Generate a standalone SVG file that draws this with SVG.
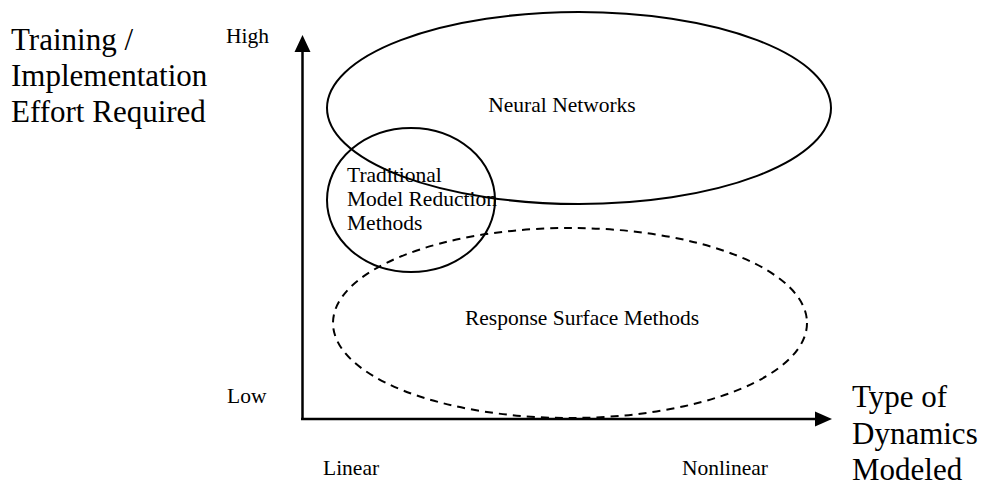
<svg xmlns="http://www.w3.org/2000/svg" width="982" height="487" viewBox="0 0 982 487">
<style>
text{font-family:"Liberation Serif","Times New Roman",serif;fill:#000}
.big{font-size:31px}
.sm{font-size:21.5px}
.el{fill:none;stroke:#000;stroke-width:2}
.ax{fill:none;stroke:#000;stroke-width:2.5}
</style>
<rect width="982" height="487" fill="#fff"/>
<g id="axes">
<line class="ax" x1="302.5" y1="420" x2="302.5" y2="50"/>
<polygon points="302.5,35 294.5,52 310.5,52" fill="#000"/>
<line class="ax" x1="301" y1="419" x2="817" y2="419"/>
<polygon points="832,419 815,411.5 815,426.5" fill="#000"/>
</g>
<g id="nn">
<ellipse class="el" cx="579" cy="108" rx="252" ry="96"/>
<text class="sm" x="562" y="112" text-anchor="middle">Neural Networks</text>
</g>
<g id="tmr">
<ellipse class="el" cx="411" cy="200" rx="84" ry="72"/>
<text class="sm" x="347" y="182">Traditional</text>
<text class="sm" x="347" y="206">Model Reduction</text>
<text class="sm" x="347" y="230">Methods</text>
</g>
<g id="rsm">
<ellipse class="el" cx="570" cy="323" rx="237" ry="95" stroke-dasharray="8,6"/>
<text class="sm" x="582" y="325" text-anchor="middle">Response Surface Methods</text>
</g>
<g id="labels">
<text class="big" x="11" y="50">Training /</text>
<text class="big" x="11" y="86">Implementation</text>
<text class="big" x="11" y="122">Effort Required</text>
<text class="sm" x="226" y="43">High</text>
<text class="sm" x="227" y="403">Low</text>
<text class="sm" x="323" y="475">Linear</text>
<text class="sm" x="682" y="475">Nonlinear</text>
<text class="big" x="852" y="407">Type of</text>
<text class="big" x="852" y="444">Dynamics</text>
<text class="big" x="852" y="480">Modeled</text>
</g>
</svg>
